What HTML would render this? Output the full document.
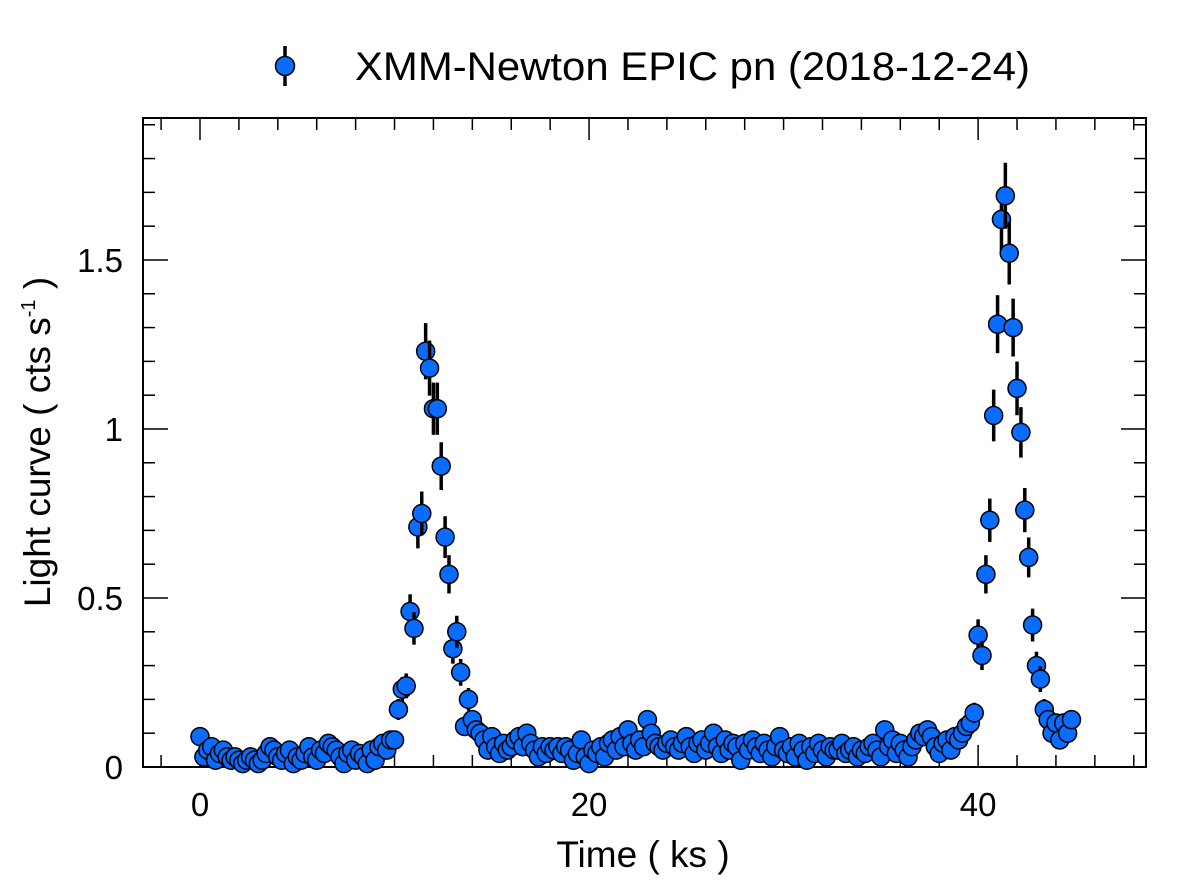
<!DOCTYPE html>
<html><head><meta charset="utf-8"><style>
body{margin:0;background:#fff}
svg text{font-family:"Liberation Sans",sans-serif;fill:#000}
</style></head><body>
<svg id="chart" width="1181" height="885" viewBox="0 0 1181 885" xmlns="http://www.w3.org/2000/svg">
<g id="legend">
<line x1="285" y1="46" x2="285" y2="86" stroke="#000" stroke-width="3.5"/>
<circle cx="285" cy="66" r="9.5" fill="#0a6cff" stroke="#000" stroke-width="1.5"/>
<text x="355" y="80" font-size="40" textLength="675" lengthAdjust="spacingAndGlyphs">XMM-Newton EPIC pn (2018-12-24)</text>
</g>
<g id="axes"></g>
<g id="marks"></g>
<text x="643" y="867" font-size="37" text-anchor="middle">Time ( ks )</text>
<text transform="translate(50,442) rotate(-90)" font-size="37" text-anchor="middle">Light curve ( cts s<tspan font-size="20" dy="-15">-1</tspan><tspan dy="15"> )</tspan></text>
</svg>
<script>
const tStart = 0, tStep = 0.2;
const baseA = [0.09,0.03,0.05,0.06,0.02,0.04,0.05,0.03,0.02,0.03,0.02,0.01,0.02,0.03,0.02,0.01,0.02,0.04,0.06,0.05,0.03,0.02,0.04,0.05,0.01,0.03,0.02,0.04,0.06,0.03,0.02,0.05,0.04,0.07,0.06,0.05,0.03,0.01,0.04,0.05,0.02,0.04,0.03,0.01,0.05,0.02,0.06,0.07,0.05,0.08,0.08];
const flare1 = [0.17,0.23,0.24,0.46,0.41,0.71,0.75,1.23,1.18,1.06,1.06,0.89,0.68,0.57,0.35,0.40,0.28,0.12,0.20,0.14,0.11];
const baseB = [0.10,0.08,0.05,0.09,0.06,0.04,0.07,0.05,0.06,0.08,0.09,0.06,0.10,0.07,0.05,0.03,0.06,0.04,0.06,0.05,
0.06,0.04,0.06,0.05,0.02,0.04,0.08,0.03,0.01,0.05,0.04,0.06,0.03,0.07,0.08,0.05,0.09,0.06,0.11,0.07,
0.05,0.08,0.06,0.14,0.10,0.07,0.06,0.05,0.07,0.08,0.06,0.05,0.07,0.09,0.06,0.04,0.07,0.08,0.05,0.07,
0.10,0.06,0.04,0.08,0.05,0.07,0.06,0.02,0.07,0.05,0.08,0.06,0.04,0.07,0.05,0.03,0.06,0.09,0.05,0.04,
0.06,0.03,0.07,0.05,0.02,0.06,0.04,0.07,0.05,0.03,0.06,0.05,0.05,0.07,0.04,0.05,0.06,0.03,0.05,0.04,
0.06,0.07,0.05,0.03,0.11,0.06,0.08,0.04,0.07,0.05,0.03,0.06,0.08,0.10,0.09,0.11,
0.09,0.06,0.04,0.07,0.08,0.05,0.09,0.08,0.10,0.12];
const flare2 = [0.13,0.16,0.39,0.33,0.57,0.73,1.04,1.31,1.62,1.69,1.52,1.30,1.12,0.99,0.76,0.62,0.42,0.30,0.26,0.17,0.14,0.10,0.13,0.08,0.13,0.10,0.14];
const xTicks = [0,20,40];
const yTicks = [0,0.5,1,1.5];
const yTickLabels = ["0","0.5","1","1.5"];

const L=143,R=1146,T=118,B=767;
const xMin=-2.93,xMax=48.63,yMin=0,yMax=1.92;
const X=v=>L+(v-xMin)/(xMax-xMin)*(R-L);
const Y=v=>B-(v-yMin)/(yMax-yMin)*(B-T);
const NS="http://www.w3.org/2000/svg";
function mk(tag,attrs,parent){const e=document.createElementNS(NS,tag);for(const k in attrs)e.setAttribute(k,attrs[k]);parent.appendChild(e);return e;}
const axes=document.getElementById('axes'),marks=document.getElementById('marks');
const frame=mk('rect',{x:L,y:T,width:R-L,height:B-T,fill:'none',stroke:'#000','stroke-width':2},axes);


for(let v=-2;v<=48;v+=2){const x=X(v);const len=(v%20===0)?22:12;
 mk('line',{x1:x,y1:B,x2:x,y2:B-len,stroke:'#000','stroke-width':1.5},axes);
 mk('line',{x1:x,y1:T,x2:x,y2:T+len,stroke:'#000','stroke-width':1.5},axes);}
for(let k=0;k<=19;k++){const v=k/10;const y=Y(v);const len=(k%5===0)?25:12;
 mk('line',{x1:L,y1:y,x2:L+len,y2:y,stroke:'#000','stroke-width':1.5},axes);
 mk('line',{x1:R,y1:y,x2:R-len,y2:y,stroke:'#000','stroke-width':1.5},axes);}
xTicks.forEach(v=>{const t=mk('text',{x:X(v),y:816,'font-size':33,'text-anchor':'middle'},axes);t.textContent=v;
 
 });
yTicks.forEach((v,i)=>{const t=mk('text',{x:123,y:Y(v)+12,'font-size':33,'text-anchor':'end'},axes);t.textContent=yTickLabels[i];
 
 });
const rates=[].concat(baseA,flare1,baseB,flare2);
rates.forEach((v,i)=>{const t=tStart+i*tStep;const e=0.075*Math.sqrt(v);const x=X(t);
 const g=mk('g',{},marks);
 
 
 mk('line',{x1:x,y1:Y(v+e),x2:x,y2:Y(Math.max(0,v-e)),stroke:'#000','stroke-width':3.5},g);
 mk('circle',{cx:x,cy:Y(v),r:9,fill:'#0a6cff',stroke:'#000','stroke-width':1.5},g);});
</script>
</body></html>
